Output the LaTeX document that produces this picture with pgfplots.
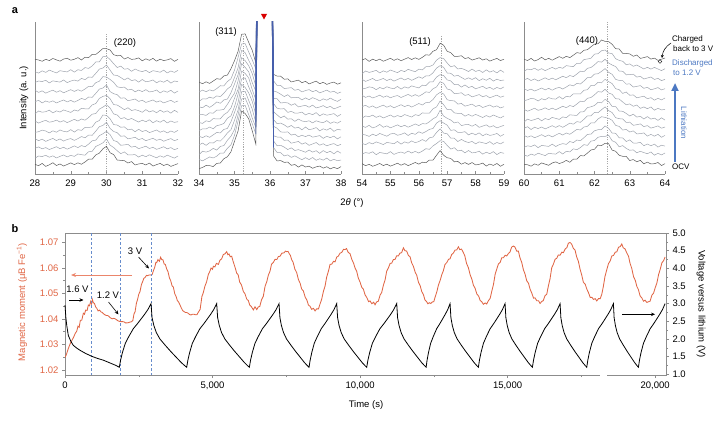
\documentclass[border=0pt]{standalone}
\usepackage{pgfplots}
\pgfplotsset{compat=1.18}
\usepackage{pgfplotstable}
\usepackage{fontspec}
\setmainfont{Liberation Sans}
\usetikzlibrary{arrows.meta}
\definecolor{redc}{rgb}{0.88,0.40,0.27}
\definecolor{redl}{rgb}{0.92,0.52,0.42}
\definecolor{bluec}{rgb}{0.30,0.47,0.76}
\definecolor{blued}{rgb}{0.40,0.55,0.80}
\definecolor{dkg}{rgb}{0.36,0.36,0.36}
\definecolor{mdg}{rgb}{0.62,0.64,0.68}
\definecolor{alb}{rgb}{0.27,0.37,0.68}
\definecolor{axg}{rgb}{0.55,0.55,0.55}
\definecolor{dsg}{rgb}{0.66,0.66,0.66}
\newcommand\fs{\fontsize{9.5}{11}\selectfont}
\newcommand\fsm{\fontsize{8}{9.5}\selectfont}

\pgfplotstableread{
i p1 p2 p3 p4 n0 n1 n2 n3 n4 n5 n6 n7 n8 n9 n10 n11
0 0 0 0 0 1 -2 0 2 -1 1 -3 0 2 -1 0 1
1 0 0.01 0 0.01 -1 1 2 -1 0 -2 1 2 -1 1 -2 0
2 0.01 0.02 0 0.01 2 0 -1 1 2 0 -1 -2 1 0 1 -2
3 0 0.03 0.01 0.02 -2 2 1 -2 1 2 0 1 -2 2 -1 1
4 0.01 0.05 0 0.02 0 -1 -2 0 -2 -1 2 -1 0 -2 2 -1
5 0.01 0.07 0.01 0.03 3 1 0 2 1 0 -2 1 2 1 0 2
6 0.01 0.1 0.01 0.04 -1 -2 2 -1 -1 2 1 -2 -1 0 -2 0
7 0.02 0.14 0.01 0.05 1 0 -1 1 2 -1 -1 0 1 -1 1 -2
8 0.02 0.2 0.02 0.06 -2 2 1 -2 0 1 2 2 -2 2 0 1
9 0.03 0.3 0.02 0.08 0 -1 -2 0 -1 -2 0 -1 0 -2 -1 2
10 0.04 0.45 0.03 0.1 2 1 0 1 2 0 -2 1 2 0 2 -1
11 0.06 0.68 0.04 0.12 -1 -1 2 -2 -2 2 1 -2 -1 1 -2 0
12 0.08 1.0 0.05 0.15 1 2 -1 0 1 -1 -1 0 1 -1 1 2
13 0.12 0.98 0.06 0.19 -2 0 1 2 -1 1 2 2 -2 2 -1 -2
14 0.17 0.85 0.07 0.24 0 -2 -2 -1 2 -2 0 -1 0 -1 2 1
15 0.25 0.66 0.09 0.3 2 1 0 1 0 0 -2 1 2 1 -1 -1
16 0.36 0.45 0.12 0.37 -1 -1 2 -2 -2 2 1 -2 -1 -2 0 2
17 0.52 6 0.16 0.45 1 2 -1 0 1 -1 -1 0 1 0 2 -1
18 0.7 6 0.23 0.55 -1 0 1 2 -1 1 2 2 -1 2 -2 0
19 0.9 6 0.33 0.66 0 -2 -1 -1 2 -1 0 -1 1 -1 1 1
20 1.0 6 0.48 0.76 1 1 0 1 -1 0 -1 1 -2 1 -1 -1
21 0.72 0.2 0.7 0.85 -1 -1 2 -1 1 2 1 -2 1 0 1 2
22 0.5 0.15 1.0 0.93 2 1 -1 0 -2 -1 -2 0 2 -2 0 -1
23 0.35 0.12 0.8 1.0 -2 0 1 2 1 1 1 2 -1 1 -2 0
24 0.26 0.1 0.56 0.92 0 -2 -2 -1 0 -2 0 -1 0 0 2 2
25 0.2 0.08 0.4 0.75 1 2 0 1 2 1 -2 1 2 -2 -1 -2
26 0.15 0.06 0.3 0.6 -1 -1 2 -2 -1 -1 2 -2 -1 2 1 1
27 0.11 0.05 0.22 0.48 2 0 -1 0 1 2 -1 0 1 -1 -2 -1
28 0.08 0.04 0.17 0.4 -2 1 1 2 -2 0 1 2 -2 1 2 0
29 0.06 0.03 0.13 0.33 0 -2 -2 -1 2 -2 0 -1 1 -2 0 2
30 0.05 0.03 0.1 0.27 1 1 0 1 -1 1 -2 1 -1 2 -1 -2
31 0.04 0.02 0.08 0.22 -1 -1 2 -2 1 -1 2 -2 2 -1 1 1
32 0.03 0.02 0.06 0.18 2 2 -1 0 -2 2 -1 0 -1 0 -2 -1
33 0.02 0.02 0.05 0.15 -2 0 1 2 0 -2 1 2 0 2 1 2
34 0.02 0.01 0.04 0.12 0 -2 -2 -1 2 1 -2 -1 2 -2 0 -2
35 0.01 0.01 0.03 0.1 2 1 0 1 -1 -1 2 1 -2 1 -1 1
36 0.01 0.01 0.02 0.08 -1 -1 2 -2 1 2 -1 -2 1 -1 2 -1
37 0.01 0.01 0.02 0.06 1 2 -1 0 -2 -2 1 0 -1 2 -2 0
38 0 0 0.01 0.05 -2 0 1 2 1 1 -2 2 2 -2 1 2
39 0 0 0.01 0.04 0 -2 -2 -1 -1 -1 2 -1 -2 1 -1 -2
40 0 0 0 0.03 2 1 0 1 2 0 -1 1 1 0 2 1
}\xrdtab

\pgfplotsset{
  xrd/.style={scale only axis, height=152pt, ymin=0, ymax=152,
    axis x line=bottom, axis y line=left, axis line style={-, draw=axg, line width=0.5pt},
    ytick=\empty, tick align=inside, major tick length=3pt, minor tick length=2pt,
    minor x tick num=1, every tick/.style={axg, line width=0.4pt},
    tick label style={font=\fs}, xticklabel style={yshift=-2pt},
    /pgf/number format/assume math mode=true, clip=true}
}
% style, x0, step, base, height, profile, noise
\newcommand\xc[7]{\addplot[#1, line width=0.5pt] table[x expr={#2+#3*\thisrow{i}}, y expr={#4+#5*\thisrow{#6}+0.7*\thisrow{#7}}]{\xrdtab};}
\newcommand\xb[3]{\addplot[alb, line width=0.6pt, restrict x to domain=35.55:36.15] table[x expr={34+0.1*\thisrow{i}}, y expr={#1+#2*\thisrow{p2}+0.7*\thisrow{#3}}]{\xrdtab};}
\newcommand\dl[3]{\draw[dsg, line width=0.4pt, dash pattern=on 1.2pt off 1.2pt] (axis cs:#1,#2) -- (axis cs:#1,#3);}

\begin{document}
\begin{tikzpicture}
\useasboundingbox (0,0) rectangle (722pt,-422pt);

% ---------- panel a ----------
\begin{axis}[xrd, at={(35pt,-174pt)}, anchor=south west, width=143pt, xmin=28, xmax=32, xtick={28,29,30,31,32}]
\dl{30}{0}{140}
\xc{dkg}{28}{0.1}{9}{18}{p1}{n0}
\xc{mdg}{28}{0.1}{17.3}{17}{p1}{n1}
\xc{mdg}{28}{0.1}{25.7}{17}{p1}{n2}
\xc{mdg}{28}{0.1}{34}{17}{p1}{n3}
\xc{mdg}{28}{0.1}{42.3}{17}{p1}{n4}
\xc{mdg}{28}{0.1}{52.3}{17}{p1}{n5}
\xc{mdg}{28}{0.1}{62.3}{17}{p1}{n6}
\xc{mdg}{28}{0.1}{72.3}{16}{p1}{n7}
\xc{mdg}{28}{0.1}{82.3}{16}{p1}{n8}
\xc{mdg}{28}{0.1}{92.3}{16}{p1}{n9}
\xc{mdg}{28}{0.1}{102.3}{16}{p1}{n10}
\xc{dkg}{28}{0.1}{114}{12}{p1}{n11}
\end{axis}

\begin{axis}[xrd, at={(199pt,-174pt)}, anchor=south west, width=142pt, xmin=34, xmax=38, xtick={34,35,36,37,38}]
\dl{35.25}{0}{138}
\xc{dkg}{34}{0.1}{6}{56.3}{p2}{n4}
\xc{mdg}{34}{0.1}{14}{55}{p2}{n5}
\xc{mdg}{34}{0.1}{21.5}{54.2}{p2}{n6}
\xc{mdg}{34}{0.1}{29}{53.3}{p2}{n7}
\xc{mdg}{34}{0.1}{36.5}{52.5}{p2}{n8}
\xc{mdg}{34}{0.1}{44}{51.7}{p2}{n9}
\xc{mdg}{34}{0.1}{51.5}{50.8}{p2}{n10}
\xc{mdg}{34}{0.1}{59}{50}{p2}{n11}
\xc{mdg}{34}{0.1}{66.5}{49.2}{p2}{n0}
\xc{mdg}{34}{0.1}{74}{48.3}{p2}{n1}
\xc{mdg}{34}{0.1}{82}{48.7}{p2}{n2}
\xc{dkg}{34}{0.1}{90.5}{49.2}{p2}{n3}
\xb{14}{55}{n5}
\xb{21.5}{54.2}{n6}
\xb{29}{53.3}{n7}
\xb{36.5}{52.5}{n8}
\xb{44}{51.7}{n9}
\xb{51.5}{50.8}{n10}
\xb{59}{50}{n11}
\xb{66.5}{49.2}{n0}
\xb{74}{48.3}{n1}
\xb{82}{48.7}{n2}
\xb{90.5}{49.2}{n3}
\end{axis}

\begin{axis}[xrd, at={(362pt,-174pt)}, anchor=south west, width=142pt, xmin=54, xmax=59, xtick={54,55,56,57,58,59}]
\dl{56.8}{0}{138}
\xc{dkg}{54}{0.125}{9}{13}{p3}{n8}
\xc{mdg}{54}{0.125}{20.7}{14}{p3}{n9}
\xc{mdg}{54}{0.125}{30.7}{14.5}{p3}{n10}
\xc{mdg}{54}{0.125}{39}{15}{p3}{n11}
\xc{mdg}{54}{0.125}{47.3}{15}{p3}{n0}
\xc{mdg}{54}{0.125}{57.3}{15}{p3}{n1}
\xc{mdg}{54}{0.125}{67.3}{15}{p3}{n2}
\xc{mdg}{54}{0.125}{77.3}{15}{p3}{n3}
\xc{mdg}{54}{0.125}{85.7}{15}{p3}{n4}
\xc{mdg}{54}{0.125}{94}{15}{p3}{n5}
\xc{mdg}{54}{0.125}{102.3}{15.5}{p3}{n6}
\xc{dkg}{54}{0.125}{114}{16.7}{p3}{n7}
\end{axis}

\begin{axis}[xrd, at={(524pt,-174pt)}, anchor=south west, width=141pt, xmin=60, xmax=64, xtick={60,61,62,63,64}]
\dl{62.35}{0}{152}
\xc{dkg}{60}{0.1}{9}{21.7}{p4}{n11}
\xc{mdg}{60}{0.1}{19}{20}{p4}{n10}
\xc{mdg}{60}{0.1}{27.3}{20}{p4}{n9}
\xc{mdg}{60}{0.1}{37.3}{20}{p4}{n8}
\xc{mdg}{60}{0.1}{45.7}{20}{p4}{n7}
\xc{mdg}{60}{0.1}{54}{20}{p4}{n6}
\xc{mdg}{60}{0.1}{64}{20}{p4}{n5}
\xc{mdg}{60}{0.1}{74}{20}{p4}{n4}
\xc{mdg}{60}{0.1}{84}{20}{p4}{n3}
\xc{mdg}{60}{0.1}{94}{20}{p4}{n2}
\xc{mdg}{60}{0.1}{104}{20}{p4}{n1}
\xc{dkg}{60}{0.1}{114}{20}{p4}{n0}
\end{axis}

% panel a annotations
\node[font=\bfseries\fontsize{11}{12}\selectfont] at (15pt,-11pt) {a};
\node[rotate=90, font=\fs] at (24pt,-98pt) {Intensity (a. u.)};
\node[font=\fs] at (352pt,-203pt) {2\textit{θ} (°)};
\node[font=\fs] at (125pt,-43pt) {(220)};
\node[font=\fs] at (226pt,-32pt) {(311)};
\node[font=\fs] at (420pt,-42pt) {(511)};
\node[font=\fs] at (587pt,-41pt) {(440)};
\fill[red!85!black] (261pt,-14pt) -- (267pt,-14pt) -- (264pt,-19.5pt) -- cycle;
\node[anchor=west, font=\fsm, inner sep=0] at (672pt,-39pt) {Charged};
\node[anchor=west, font=\fsm, inner sep=0] at (673pt,-48.5pt) {back to 3 V};
\node[anchor=west, font=\fsm, text=bluec, inner sep=0] at (672pt,-63pt) {Discharged};
\node[anchor=west, font=\fsm, text=bluec, inner sep=0] at (673pt,-72.5pt) {to 1.2 V};
\draw[-{Stealth[length=3pt,width=3pt]}, line width=0.5pt] (671pt,-43pt) to[bend right=25] (662pt,-58pt);
\draw[line width=0.4pt] (660pt,-61.5pt) circle (1.8pt);
\draw[bluec, line width=2pt, -{Triangle[length=8pt,width=7pt]}] (675pt,-162pt) -- (675pt,-83pt);
\node[rotate=-90, font=\fsm, text=bluec] at (684pt,-123pt) {Lithiation};
\node[anchor=west, font=\fsm, inner sep=0] at (672pt,-167pt) {OCV};

% ---------- panel b ----------
\begin{axis}[scale only axis, at={(65pt,-375pt)}, anchor=south west, width=601pt, height=142pt,
  xmin=0, xmax=20370, ymin=1.018, ymax=1.0736,
  axis line style={draw=axg, line width=0.5pt},
  scaled x ticks=false, scaled y ticks=false,
  xtick={0,5000,10000,15000,20000}, xticklabels={0,{5,000},{10,000},{15,000},{20,000}},
  minor x tick num=1,
  ytick={1.02,1.03,1.04,1.05,1.06,1.07}, yticklabels={1.02,1.03,1.04,1.05,1.06,1.07},
  minor y tick num=1,
  xtick pos=left, ytick pos=left, tick align=outside,
  major tick length=3pt, minor tick length=2pt,
  every tick/.style={axg, line width=0.4pt},
  tick label style={font=\fs},
  yticklabel style={text=redc},
  /pgf/number format/assume math mode=true]
\addplot[redc, line width=0.85pt] coordinates {
(0,1.0249)(40,1.0258)(80,1.0272)(120,1.0286)(170,1.0301)(210,1.0310)(250,1.0319)(300,1.0330)(350,1.0344)(396,1.0351)
(440,1.0371)(480,1.0367)(520,1.0394)(570,1.0395)(622,1.0422)(660,1.0418)(700,1.0434)(750,1.0433)(792,1.0454)(830,1.0451)
(870,1.0468)(900,1.0458)(927,1.0476)(960,1.0463)(1000,1.0460)(1040,1.0446)(1074,1.0442)(1120,1.0431)(1170,1.0434)(1220,1.0427)
(1260,1.0425)(1300,1.0420)(1350,1.0416)(1400,1.0413)(1450,1.0413)(1500,1.0408)(1550,1.0403)(1600,1.0400)(1650,1.0402)(1700,1.0400)
(1750,1.0396)(1800,1.0392)(1850,1.0390)(1900,1.0389)(1950,1.0389)(2000,1.0388)(2050,1.0384)(2100,1.0384)(2150,1.0385)(2200,1.0387)
(2261,1.0389)(2300,1.0394)(2340,1.0420)(2374,1.0427)(2420,1.0461)(2460,1.0476)(2500,1.0496)(2543,1.0507)(2590,1.0534)(2630,1.0545)
(2670,1.0558)(2713,1.0562)(2760,1.0570)(2800,1.0569)(2840,1.0571)(2882,1.0572)(2920,1.0571)(2960,1.0575)(2995,1.0588)(3040,1.0601)
(3080,1.0621)(3108,1.0620)(3150,1.0632)(3200,1.0625)(3240,1.0641)(3278,1.0632)(3320,1.0631)(3360,1.0615)(3400,1.0613)(3447,1.0595)
(3490,1.0585)(3540,1.0560)(3580,1.0550)(3630,1.0529)(3673,1.0524)(3720,1.0498)(3760,1.0489)(3810,1.0471)(3850,1.0466)(3899,1.0454)
(3940,1.0443)(3990,1.0432)(4040,1.0428)(4080,1.0425)(4125,1.0425)(4170,1.0422)(4220,1.0417)(4270,1.0415)(4320,1.0418)(4370,1.0418)
(4420,1.0416)(4470,1.0416)(4520,1.0426)(4580,1.0437)(4640,1.0487)(4689,1.0503)(4740,1.0527)(4800,1.0545)(4859,1.0574)(4900,1.0583)
(4950,1.0599)(5000,1.0594)(5028,1.0606)(5080,1.0603)(5130,1.0617)(5198,1.0613)(5250,1.0629)(5310,1.0635)(5367,1.0652)(5420,1.0654)
(5480,1.0663)(5520,1.0651)(5560,1.0654)(5600,1.0643)(5650,1.0645)(5700,1.0624)(5760,1.0603)(5819,1.0579)(5870,1.0572)(5920,1.0544)
(5980,1.0533)(6045,1.0507)(6100,1.0498)(6160,1.0477)(6215,1.0471)(6260,1.0454)(6320,1.0447)(6384,1.0435)(6440,1.0447)(6500,1.0436)
(6554,1.0447)(6600,1.0448)(6660,1.0474)(6723,1.0489)(6780,1.0527)(6840,1.0546)(6893,1.0571)(6950,1.0587)(7000,1.0614)(7062,1.0621)
(7120,1.0633)(7180,1.0632)(7232,1.0644)(7290,1.0645)(7350,1.0657)(7420,1.0658)(7470,1.0665)(7514,1.0663)(7560,1.0664)(7600,1.0655)
(7640,1.0648)(7684,1.0631)(7730,1.0622)(7790,1.0595)(7853,1.0581)(7910,1.0554)(7970,1.0539)(8020,1.0517)(8079,1.0509)(8140,1.0485)
(8200,1.0473)(8250,1.0454)(8305,1.0449)(8360,1.0437)(8420,1.0441)(8475,1.0431)(8530,1.0439)(8590,1.0439)(8644,1.0458)(8700,1.0477)
(8760,1.0508)(8814,1.0528)(8870,1.0564)(8930,1.0587)(8983,1.0613)(9040,1.0614)(9100,1.0625)(9153,1.0623)(9210,1.0642)(9260,1.0645)
(9322,1.0657)(9380,1.0660)(9440,1.0672)(9492,1.0671)(9540,1.0675)(9600,1.0660)(9661,1.0655)(9720,1.0633)(9780,1.0618)(9830,1.0599)
(9887,1.0586)(9940,1.0560)(10000,1.0544)(10060,1.0523)(10113,1.0516)(10170,1.0494)(10230,1.0483)(10290,1.0467)(10339,1.0470)(10400,1.0459)
(10460,1.0465)(10508,1.0455)(10560,1.0466)(10620,1.0469)(10680,1.0493)(10734,1.0503)(10790,1.0531)(10850,1.0553)(10904,1.0587)(10960,1.0599)
(11020,1.0617)(11073,1.0618)(11130,1.0632)(11190,1.0633)(11240,1.0647)(11299,1.0646)(11350,1.0657)(11410,1.0659)(11469,1.0678)(11520,1.0667)
(11580,1.0665)(11640,1.0648)(11695,1.0643)(11750,1.0619)(11810,1.0605)(11870,1.0582)(11921,1.0571)(11980,1.0543)(12040,1.0529)(12090,1.0507)
(12147,1.0495)(12200,1.0474)(12250,1.0468)(12300,1.0459)(12350,1.0463)(12400,1.0460)(12450,1.0466)(12500,1.0467)(12542,1.0484)(12600,1.0505)
(12660,1.0533)(12720,1.0552)(12768,1.0572)(12820,1.0587)(12880,1.0613)(12938,1.0620)(13000,1.0633)(13050,1.0635)(13107,1.0652)(13160,1.0657)
(13220,1.0669)(13280,1.0670)(13333,1.0682)(13380,1.0671)(13440,1.0673)(13503,1.0659)(13550,1.0647)(13610,1.0617)(13672,1.0600)(13730,1.0573)
(13790,1.0555)(13840,1.0532)(13898,1.0520)(13960,1.0497)(14020,1.0489)(14070,1.0472)(14124,1.0467)(14180,1.0457)(14240,1.0462)(14293,1.0458)
(14350,1.0471)(14410,1.0480)(14463,1.0507)(14520,1.0533)(14580,1.0575)(14632,1.0594)(14690,1.0615)(14750,1.0621)(14802,1.0639)(14860,1.0639)
(14920,1.0649)(14970,1.0646)(15028,1.0656)(15080,1.0661)(15140,1.0681)(15198,1.0685)(15250,1.0681)(15310,1.0665)(15367,1.0665)(15420,1.0639)
(15480,1.0621)(15537,1.0592)(15590,1.0576)(15650,1.0549)(15710,1.0539)(15763,1.0516)(15820,1.0501)(15880,1.0481)(15930,1.0482)(15989,1.0471)
(16050,1.0471)(16100,1.0460)(16158,1.0468)(16210,1.0471)(16270,1.0491)(16328,1.0496)(16380,1.0527)(16440,1.0557)(16497,1.0600)(16550,1.0613)
(16610,1.0633)(16667,1.0637)(16720,1.0650)(16780,1.0649)(16840,1.0661)(16893,1.0659)(16950,1.0673)(17010,1.0679)(17060,1.0696)(17119,1.0699)
(17170,1.0693)(17230,1.0676)(17288,1.0669)(17340,1.0643)(17400,1.0625)(17458,1.0594)(17510,1.0573)(17570,1.0543)(17630,1.0536)(17684,1.0517)
(17740,1.0503)(17800,1.0484)(17860,1.0484)(17910,1.0476)(17970,1.0479)(18023,1.0470)(18080,1.0479)(18140,1.0479)(18193,1.0496)(18250,1.0529)
(18300,1.0565)(18362,1.0592)(18420,1.0616)(18480,1.0627)(18532,1.0646)(18590,1.0648)(18650,1.0661)(18702,1.0662)(18760,1.0680)(18820,1.0683)
(18871,1.0693)(18920,1.0678)(18980,1.0674)(19041,1.0658)(19100,1.0645)(19150,1.0618)(19210,1.0597)(19270,1.0565)(19330,1.0550)(19380,1.0527)
(19436,1.0514)(19490,1.0490)(19550,1.0482)(19606,1.0469)(19660,1.0473)(19720,1.0464)(19776,1.0467)(19830,1.0469)(19890,1.0492)(19950,1.0501)
(20002,1.0521)(20060,1.0540)(20120,1.0574)(20172,1.0593)(20230,1.0619)(20290,1.0628)(20339,1.0642)
};
\end{axis}

\begin{axis}[scale only axis, at={(65pt,-375pt)}, anchor=south west, width=601pt, height=142pt,
  xmin=0, xmax=20370, ymin=0.98, ymax=5.0,
  scaled x ticks=false, scaled y ticks=false,
  axis x line=none, axis y line*=right,
  axis line style={-, draw=axg, line width=0.5pt},
  ytick={1,1.5,2,2.5,3,3.5,4,4.5,5}, yticklabels={1.0,1.5,2.0,2.5,3.0,3.5,4.0,4.5,5.0},
  minor y tick num=1, tick align=outside,
  major tick length=3pt, minor tick length=2pt,
  every tick/.style={axg, line width=0.4pt},
  tick label style={font=\fs},
  /pgf/number format/assume math mode=true, clip=false]
\draw[blued, line width=0.6pt, dash pattern=on 2.5pt off 2pt] (axis cs:905,0.98) -- (axis cs:905,5);
\draw[blued, line width=0.6pt, dash pattern=on 2.5pt off 2pt] (axis cs:1860,0.98) -- (axis cs:1860,5);
\draw[blued, line width=0.6pt, dash pattern=on 2.5pt off 2pt] (axis cs:2915,0.98) -- (axis cs:2915,5);
\addplot[black, line width=0.8pt] coordinates {
(0,2.96)(30,2.6)(58,2.39)(112,2.1)(200,1.93)(281,1.82)(400,1.74)(508,1.68)(700,1.59)(905,1.51)(1100,1.45)(1298,1.40)(1500,1.33)(1700,1.26)(1841,1.2)
(1884,1.4)(1948,1.62)(2045,1.88)(2163,2.07)(2314,2.29)(2453,2.43)(2582,2.57)(2700,2.7)(2808,2.83)(2915,3.0)
(2951,2.6)(3012,2.38)(3096,2.18)(3217,2.0)(3399,1.82)(3580,1.65)(3761,1.49)(3943,1.33)(4064,1.24)(4124,1.2)
(4165,1.4)(4226,1.62)(4317,1.88)(4429,2.07)(4571,2.29)(4704,2.43)(4826,2.57)(4938,2.7)(5039,2.83)(5141,3.0)
(5174,2.6)(5230,2.38)(5307,2.18)(5418,2.0)(5584,1.82)(5750,1.65)(5917,1.49)(6083,1.33)(6194,1.24)(6249,1.2)
(6289,1.4)(6350,1.62)(6440,1.88)(6551,2.07)(6691,2.29)(6822,2.43)(6942,2.57)(7053,2.7)(7154,2.83)(7254,3.0)
(7285,2.6)(7335,2.38)(7407,2.18)(7508,2.0)(7661,1.82)(7813,1.65)(7966,1.49)(8118,1.33)(8220,1.24)(8271,1.2)
(8309,1.4)(8365,1.62)(8449,1.88)(8552,2.07)(8684,2.29)(8806,2.43)(8918,2.57)(9021,2.7)(9115,2.83)(9209,3.0)
(9240,2.6)(9290,2.38)(9362,2.18)(9463,2.0)(9616,1.82)(9768,1.65)(9921,1.49)(10073,1.33)(10175,1.24)(10226,1.2)
(10267,1.4)(10328,1.62)(10419,1.88)(10531,2.07)(10673,2.29)(10806,2.43)(10928,2.57)(11040,2.7)(11141,2.83)(11243,3.0)
(11273,2.6)(11323,2.38)(11393,2.18)(11492,2.0)(11642,1.82)(11791,1.65)(11941,1.49)(12090,1.33)(12190,1.24)(12240,1.2)
(12272,1.4)(12321,1.62)(12394,1.88)(12483,2.07)(12597,2.29)(12702,2.43)(12800,2.57)(12889,2.7)(12970,2.83)(13051,3.0)
(13080,2.6)(13128,2.38)(13195,2.18)(13291,2.0)(13435,1.82)(13579,1.65)(13723,1.49)(13867,1.33)(13963,1.24)(14011,1.2)
(14047,1.4)(14101,1.62)(14183,1.88)(14282,2.07)(14409,2.29)(14526,2.43)(14635,2.57)(14734,2.7)(14825,2.83)(14915,3.0)
(14943,2.6)(14989,2.38)(15054,2.18)(15147,2.0)(15286,1.82)(15425,1.65)(15564,1.49)(15703,1.33)(15796,1.24)(15842,1.2)
(15880,1.4)(15936,1.62)(16020,1.88)(16123,2.07)(16255,2.29)(16377,2.43)(16489,2.57)(16592,2.7)(16686,2.83)(16780,3.0)
(16807,2.6)(16852,2.38)(16916,2.18)(17006,2.0)(17142,1.82)(17277,1.65)(17413,1.49)(17548,1.33)(17639,1.24)(17684,1.2)
(17720,1.4)(17774,1.62)(17856,1.88)(17955,2.07)(18081,2.29)(18199,2.43)(18307,2.57)(18406,2.7)(18497,2.83)(18587,3.0)
(18612,2.6)(18655,2.38)(18714,2.18)(18799,2.0)(18926,1.82)(19053,1.65)(19181,1.49)(19308,1.33)(19393,1.24)(19435,1.2)
(19471,1.4)(19525,1.62)(19607,1.88)(19706,2.07)(19833,2.29)(19950,2.43)(20059,2.57)(20158,2.7)(20249,2.83)(20339,3.0)
};
\draw[white, line width=3pt] (axis cs:18140,0.98) -- (axis cs:18370,0.98);
\end{axis}

% panel b annotations
\node[font=\bfseries\fontsize{11}{12}\selectfont] at (15pt,-229pt) {b};
\node[rotate=90, font=\fs, text=redc] at (22pt,-302pt) {Magnetic moment (μB Fe\textsuperscript{−1})};
\node[rotate=-90, font=\fs] at (701pt,-304pt) {Voltage versus lithium (V)};
\node[font=\fs] at (366pt,-405pt) {Time (s)};
\node[font=\fs] at (77.5pt,-289pt) {1.6 V};
\node[font=\fs] at (108pt,-295pt) {1.2 V};
\node[font=\fs] at (135pt,-251.5pt) {3 V};
\draw[-{Stealth[length=4pt,width=3.5pt]}, line width=0.6pt] (69pt,-300pt) -- (83.5pt,-300pt);
\draw[-{Stealth[length=4pt,width=3.5pt]}, line width=0.6pt] (108.5pt,-302pt) -- (118.5pt,-314.5pt);
\draw[-{Stealth[length=4pt,width=3.5pt]}, line width=0.6pt] (138.5pt,-257pt) -- (149pt,-268.5pt);
\draw[redl, -{Stealth[length=5pt,width=4pt]}, line width=0.9pt] (132pt,-275pt) -- (71pt,-275pt);
\draw[-{Stealth[length=4pt,width=3.5pt]}, line width=0.6pt] (622pt,-314.3pt) -- (655pt,-314.3pt);
\end{tikzpicture}
\end{document}
